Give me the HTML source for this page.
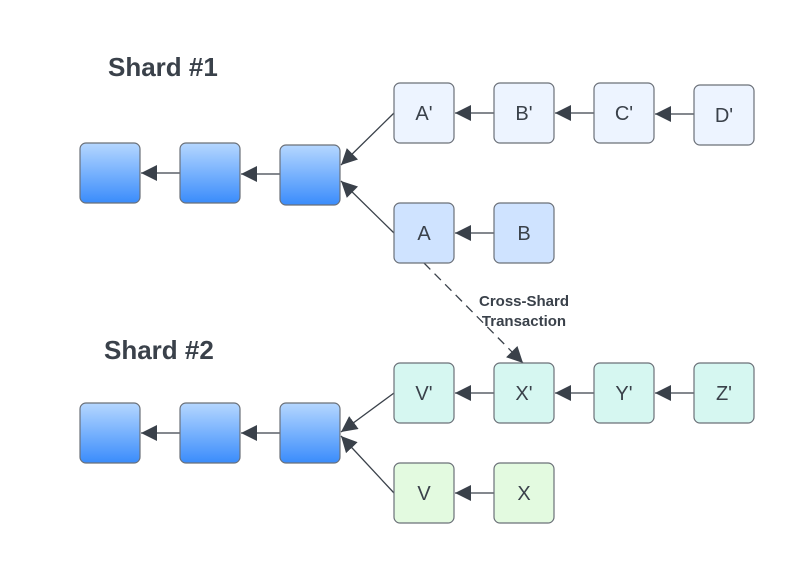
<!DOCTYPE html>
<html><head><meta charset="utf-8"><style>
html,body{margin:0;padding:0;background:#fff;width:794px;height:563px;overflow:hidden}
svg{display:block}
text{font-family:"Liberation Sans",sans-serif;fill:#3a414a}
</style></head><body>
<svg width="794" height="563" viewBox="0 0 794 563">
<defs>
<linearGradient id="g" x1="0" y1="0" x2="0" y2="1"><stop offset="0" stop-color="#b5d7ff"/><stop offset="1" stop-color="#3a8cfb"/></linearGradient>
<marker id="ah" viewBox="0 0 10 10" refX="10" refY="5" markerWidth="16" markerHeight="16" markerUnits="userSpaceOnUse" orient="auto"><path d="M0,0 L10,5 L0,10 z" fill="#3a414a"/></marker>
</defs>
<text x="108" y="76" font-size="26" font-weight="bold">Shard #1</text>
<text x="104" y="359" font-size="26" font-weight="bold">Shard #2</text>
<g stroke="#3a414a" stroke-width="1.3" fill="none">
<line x1="180" y1="173" x2="141" y2="173" marker-end="url(#ah)"/>
<line x1="280" y1="174" x2="241" y2="174" marker-end="url(#ah)"/>
<line x1="394" y1="113" x2="341" y2="165" marker-end="url(#ah)"/>
<line x1="394" y1="233" x2="341" y2="181" marker-end="url(#ah)"/>
<line x1="494" y1="113" x2="455" y2="113" marker-end="url(#ah)"/>
<line x1="594" y1="113" x2="555" y2="113" marker-end="url(#ah)"/>
<line x1="694" y1="114" x2="655" y2="114" marker-end="url(#ah)"/>
<line x1="494" y1="233" x2="455" y2="233" marker-end="url(#ah)"/>
<line x1="424" y1="263" x2="523" y2="363" stroke-dasharray="9,6" marker-end="url(#ah)"/>
<line x1="180" y1="433" x2="141" y2="433" marker-end="url(#ah)"/>
<line x1="280" y1="433" x2="241" y2="433" marker-end="url(#ah)"/>
<line x1="394" y1="393" x2="341" y2="432" marker-end="url(#ah)"/>
<line x1="394" y1="493" x2="341" y2="436" marker-end="url(#ah)"/>
<line x1="494" y1="393" x2="455" y2="393" marker-end="url(#ah)"/>
<line x1="594" y1="393" x2="555" y2="393" marker-end="url(#ah)"/>
<line x1="694" y1="393" x2="655" y2="393" marker-end="url(#ah)"/>
<line x1="494" y1="493" x2="455" y2="493" marker-end="url(#ah)"/>
</g>
<g stroke="#6b7078" stroke-width="1.2">
<rect x="80" y="143" width="60" height="60" rx="6" fill="url(#g)"/>
<rect x="180" y="143" width="60" height="60" rx="6" fill="url(#g)"/>
<rect x="280" y="145" width="60" height="60" rx="6" fill="url(#g)"/>
<rect x="80" y="403" width="60" height="60" rx="6" fill="url(#g)"/>
<rect x="180" y="403" width="60" height="60" rx="6" fill="url(#g)"/>
<rect x="280" y="403" width="60" height="60" rx="6" fill="url(#g)"/>
<rect x="394" y="83" width="60" height="60" rx="6" fill="#edf4ff"/>
<rect x="494" y="83" width="60" height="60" rx="6" fill="#edf4ff"/>
<rect x="594" y="83" width="60" height="60" rx="6" fill="#edf4ff"/>
<rect x="694" y="85" width="60" height="60" rx="6" fill="#edf4ff"/>
<rect x="394" y="203" width="60" height="60" rx="6" fill="#cfe3ff"/>
<rect x="494" y="203" width="60" height="60" rx="6" fill="#cfe3ff"/>
<rect x="394" y="363" width="60" height="60" rx="6" fill="#d6f7f1"/>
<rect x="494" y="363" width="60" height="60" rx="6" fill="#d6f7f1"/>
<rect x="594" y="363" width="60" height="60" rx="6" fill="#d6f7f1"/>
<rect x="694" y="363" width="60" height="60" rx="6" fill="#d6f7f1"/>
<rect x="394" y="463" width="60" height="60" rx="6" fill="#e3fae0"/>
<rect x="494" y="463" width="60" height="60" rx="6" fill="#e3fae0"/>
</g>
<g font-size="20" text-anchor="middle">
<text x="424" y="120">A'</text>
<text x="524" y="120">B'</text>
<text x="624" y="120">C'</text>
<text x="724" y="122">D'</text>
<text x="424" y="240">A</text>
<text x="524" y="240">B</text>
<text x="424" y="400">V'</text>
<text x="524" y="400">X'</text>
<text x="624" y="400">Y'</text>
<text x="724" y="400">Z'</text>
<text x="424" y="500">V</text>
<text x="524" y="500">X</text>
</g>
<g font-size="15" font-weight="bold" text-anchor="middle">
<text x="524" y="306">Cross-Shard</text>
<text x="524" y="326">Transaction</text>
</g>
</svg>
</body></html>
